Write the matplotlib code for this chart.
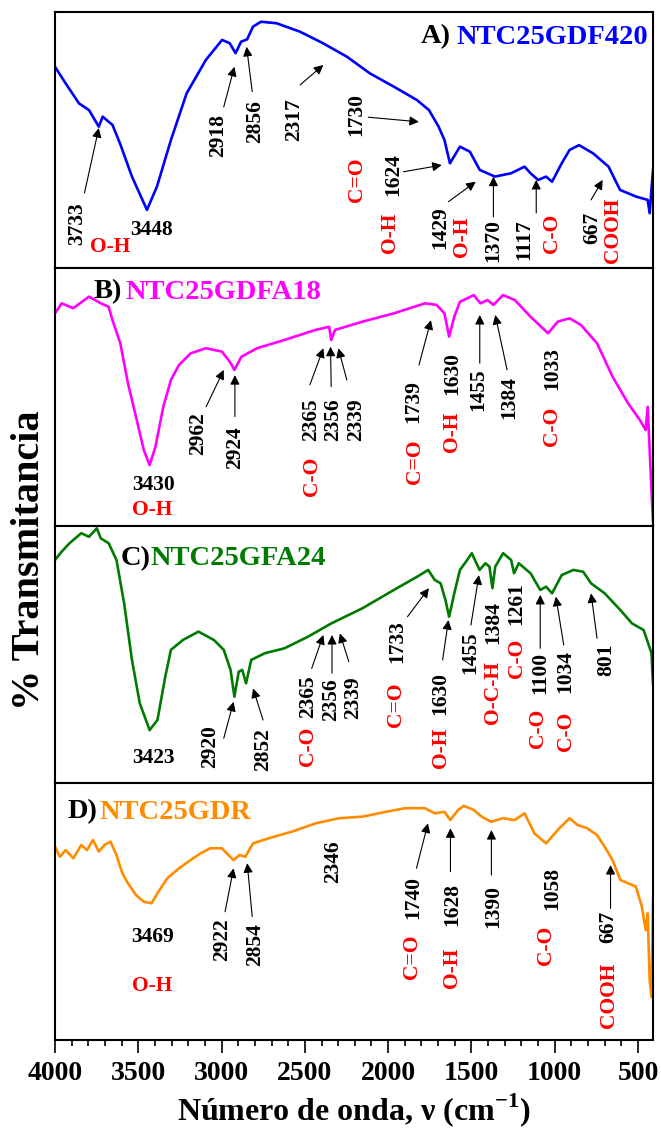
import numpy as np
import matplotlib
matplotlib.use("Agg")
import matplotlib.pyplot as plt
from matplotlib.ticker import MultipleLocator

plt.rcParams['font.family'] = ['Liberation Serif', 'DejaVu Serif']
plt.rcParams['font.weight'] = 'bold'
plt.rcParams['mathtext.fontset'] = 'custom'
plt.rcParams['mathtext.rm'] = 'Liberation Serif:bold'
plt.rcParams['mathtext.bf'] = 'Liberation Serif:bold'

# spectra (wavenumber cm-1, transmittance in % of panel height)
A_wn = [4000, 3936, 3856, 3796, 3737, 3714, 3655, 3610, 3538, 3448, 3388, 3304, 3210, 3094, 2997, 2951,
        2916, 2883, 2847, 2811, 2763, 2670, 2529, 2391, 2247, 2109, 1965, 1827, 1755, 1697, 1662, 1629,
        1569, 1509, 1450, 1404, 1359, 1262, 1181, 1145, 1100, 1052, 1016, 958, 911, 854, 770, 677, 608,
        512, 442, 430, 418, 410]
A_T = [78.6, 72.1, 64.3, 61.7, 55.2, 59.1, 55.9, 48.7, 35.7, 22.7, 31.8, 50.0, 68.2, 81.3, 89.1, 87.8,
       83.9, 88.4, 89.3, 94.3, 96.2, 95.6, 92.3, 87.8, 82.5, 76.0, 70.8, 65.6, 61.7, 55.2, 50.0, 40.9,
       47.4, 45.4, 38.3, 37.0, 35.7, 37.0, 39.6, 37.0, 34.4, 35.7, 33.7, 40.9, 46.1, 48.0, 44.8, 39.6, 30.5,
       27.9, 26.6, 21.4, 31.8, 38.3]

B_wn = [4000, 3960, 3890, 3796, 3725, 3678, 3655, 3608, 3562, 3514, 3467, 3432, 3397, 3350, 3304, 3256,
        3186, 3094, 2998, 2951, 2923, 2881, 2787, 2623, 2436, 2354, 2342, 2319, 2154, 1967, 1779, 1709,
        1662, 1634, 1603, 1569, 1486, 1446, 1404, 1368, 1310, 1240, 1145, 1040, 982, 911, 842, 746, 653,
        560, 489, 454, 442, 430, 420, 410]
B_T = [82.4, 86.3, 84.4, 88.9, 86.3, 85.0, 79.8, 70.8, 55.3, 42.4, 29.5, 23.6, 30.7, 46.2, 56.6, 62.4,
       66.9, 68.9, 67.6, 63.7, 60.5, 65.6, 68.9, 72.1, 76.0, 77.2, 72.1, 76.0, 79.2, 82.4, 86.3, 85.7,
       82.4, 73.4, 81.1, 86.9, 89.5, 86.3, 87.6, 85.7, 89.5, 87.6, 81.1, 74.7, 79.2, 80.5, 77.9, 70.8, 57.9,
       47.6, 41.1, 37.2, 46.2, 29.5, 15.0, 2.0]

C_wn = [4000, 3960, 3913, 3842, 3796, 3749, 3725, 3678, 3631, 3585, 3538, 3491, 3432, 3385, 3338, 3304,
        3233, 3139, 3045, 2987, 2946, 2923, 2897, 2876, 2853, 2822, 2740, 2623, 2482, 2341, 2154, 1966,
        1825, 1760, 1720, 1685, 1656, 1634, 1603, 1569, 1533, 1498, 1451, 1416, 1392, 1374, 1357, 1310,
        1262, 1244, 1216, 1145, 1087, 1052, 1016, 958, 888, 829, 782, 700, 606, 536, 466, 419, 410]
C_T = [86.8, 90.0, 93.3, 97.2, 95.8, 99.1, 95.2, 93.3, 86.8, 69.9, 47.9, 31.0, 20.6, 24.5, 41.4, 51.8,
       55.6, 58.9, 55.6, 51.8, 44.0, 33.6, 43.3, 44.0, 38.8, 47.9, 50.5, 52.4, 56.9, 62.1, 68.0, 75.1,
       80.3, 82.9, 79.0, 77.7, 71.2, 64.7, 73.8, 82.9, 86.1, 89.4, 82.9, 85.5, 84.2, 75.8, 84.2, 89.4,
       86.8, 81.6, 85.5, 81.6, 75.1, 76.4, 73.8, 80.9, 82.9, 82.2, 77.7, 73.8, 67.3, 62.1, 59.5, 50.5, 38.8]

D_wn = [4000, 3971, 3936, 3890, 3842, 3808, 3772, 3737, 3702, 3667, 3631, 3596, 3562, 3514, 3467, 3420,
        3385, 3326, 3256, 3186, 3127, 3068, 2998, 2928, 2892, 2857, 2811, 2717, 2576, 2436, 2295, 2154,
        2013, 1896, 1779, 1720, 1662, 1627, 1580, 1545, 1486, 1439, 1381, 1310, 1240, 1181, 1122, 1052,
        982, 911, 864, 806, 747, 700, 653, 606, 560, 513, 477, 454, 442, 430, 419, 410]
D_T = [75.2, 71.3, 73.9, 70.7, 75.9, 73.9, 77.8, 73.3, 75.9, 77.2, 72.0, 64.9, 61.0, 56.4, 53.8, 53.2,
       57.1, 62.9, 66.8, 70.0, 72.6, 74.6, 74.6, 70.0, 72.0, 71.3, 76.5, 78.5, 81.1, 84.3, 86.3, 86.9,
       88.8, 90.2, 90.2, 88.2, 88.8, 85.6, 89.5, 91.1, 89.5, 86.9, 84.9, 86.3, 85.6, 88.2, 80.4, 76.5,
       81.7, 86.3, 83.7, 82.4, 79.8, 75.2, 70.0, 62.3, 61.0, 59.7, 51.9, 42.8, 49.3, 23.3, 16.8, 54.0]

names = ['NTC25GDF420', 'NTC25GDFA18', 'NTC25GFA24', 'NTC25GDR']
letters = ['A)', 'B)', 'C)', 'D)']
colors = ['#0000ff', '#ff00ff', '#007a00', '#ff8c00']
series = [(A_wn, A_T), (B_wn, B_T), (C_wn, C_T), (D_wn, D_T)]

RED = '#ff0000'
# labels: (text, x, y, rotation, colour)
labels = [
    [('3733', 3866, 17.2, 90, 'k'), ('O-H', 3666, 8.2, 0, RED), ('3448', 3420, 14.8, 0, 'k'),
     ('2918', 3021, 51.6, 90, 'k'), ('2856', 2799, 57.1, 90, 'k'), ('2317', 2565, 57.8, 90, 'k'),
     ('1730', 2189, 59.8, 90, 'k'), ('C=O', 2189, 34.4, 90, RED), ('1624', 1967, 36.3, 90, 'k'),
     ('O-H', 1989, 13.7, 90, RED), ('1429', 1685, 15.6, 90, 'k'), ('O-H', 1557, 12.1, 90, RED),
     ('1370', 1368, 10.9, 90, 'k'), ('1117', 1181, 10.9, 90, 'k'), ('C-O', 1016, 13.7, 90, RED),
     ('667', 776, 15.6, 90, 'k'), ('COOH', 653, 14.8, 90, RED)],
    [('3430', 3409, 15.9, 0, 'k'), ('O-H', 3415, 6.2, 0, RED), ('2962', 3139, 35.9, 90, 'k'),
     ('2924', 2916, 30.4, 90, 'k'), ('2365', 2460, 41.1, 90, 'k'), ('2356', 2330, 41.1, 90, 'k'),
     ('2339', 2195, 41.1, 90, 'k'), ('C-O', 2459, 19.4, 90, RED), ('1739', 1849, 48.1, 90, 'k'),
     ('C=O', 1839, 24.8, 90, RED), ('1630', 1615, 59.3, 90, 'k'), ('O-H', 1615, 36.4, 90, RED),
     ('1455', 1462, 52.7, 90, 'k'), ('1384', 1274, 49.6, 90, 'k'), ('1033', 1016, 61.2, 90, 'k'),
     ('C-O', 1016, 38.8, 90, RED)],
    [('3423', 3409, 9.7, 0, 'k'), ('2920', 3069, 14.0, 90, 'k'), ('2852', 2751, 12.8, 90, 'k'),
     ('2365', 2482, 33.5, 90, 'k'), ('C-O', 2482, 14.4, 90, RED), ('2356', 2342, 32.3, 90, 'k'),
     ('2339', 2210, 33.1, 90, 'k'), ('1733', 1943, 54.9, 90, 'k'), ('C=O', 1955, 30.4, 90, RED),
     ('1630', 1685, 35.0, 90, 'k'), ('O-H', 1685, 13.6, 90, RED), ('1455', 1509, 50.6, 90, 'k'),
     ('1384', 1368, 62.6, 90, 'k'), ('O-C-H', 1368, 35.4, 90, RED), ('1261', 1228, 70.0, 90, 'k'),
     ('C-O', 1228, 48.6, 90, RED), ('1100', 1087, 42.8, 90, 'k'), ('C-O', 1099, 21.4, 90, RED),
     ('1034', 935, 43.2, 90, 'k'), ('C-O', 935, 20.2, 90, RED), ('801', 689, 47.9, 90, 'k')],
    [('3469', 3415, 40.1, 0, 'k'), ('O-H', 3415, 21.0, 0, RED), ('2922', 2998, 38.9, 90, 'k'),
     ('2854', 2799, 37.0, 90, 'k'), ('2346', 2330, 69.3, 90, 'k'), ('1740', 1849, 55.6, 90, 'k'),
     ('C=O', 1854, 32.3, 90, RED), ('1628', 1615, 52.9, 90, 'k'), ('O-H', 1615, 28.0, 90, RED),
     ('1390', 1368, 51.8, 90, 'k'), ('1058', 1016, 59.1, 90, 'k'), ('C-O', 1052, 37.0, 90, RED),
     ('667', 677, 44.0, 90, 'k'), ('COOH', 677, 17.5, 90, RED)],
]
# arrows: (x_tail, y_tail, x_tip, y_tip)
arrows = [
    [(3823, 29.3, 3737, 54.7), (2987, 62.9, 2923, 78.6), (2816, 68.9, 2850, 86.4), (2529, 71.5, 2389, 79.3),
     (2119, 58.9, 1815, 57.1), (1908, 37.6, 1678, 40.2), (1638, 25.9, 1474, 33.7), (1368, 20.0, 1368, 35.7),
     (1111, 21.5, 1111, 34.4), (782, 26.6, 712, 34.4)],
    [(3093, 46.2, 2987, 60.5), (2920, 42.4, 2920, 58.5), (2470, 54.7, 2389, 68.9), (2342, 54.0, 2346, 69.5),
     (2248, 56.6, 2299, 68.9), (1815, 62.4, 1743, 79.8), (1450, 63.1, 1450, 81.8), (1286, 60.5, 1357, 81.8)],
    [(2987, 17.4, 2928, 31.6), (2751, 24.5, 2811, 36.8), (2459, 44.6, 2389, 57.6), (2337, 42.7, 2337, 57.6),
     (2236, 47.2, 2290, 58.2), (1884, 64.7, 1755, 75.8), (1673, 47.9, 1638, 63.4), (1503, 61.5, 1455, 80.9),
     (1087, 52.4, 1087, 73.2), (946, 53.7, 993, 72.5), (746, 56.3, 782, 73.8)],
    [(2979, 49.9, 2928, 66.8), (2816, 48.0, 2846, 68.8), (1830, 66.8, 1761, 84.3), (1626, 65.5, 1626, 82.4),
     (1380, 64.2, 1380, 81.7), (665, 51.2, 665, 68.1)],
]
# title positions (axes fraction) and gap between letter and name (px)
title_pos = [(0.612, 0.902, 6), (0.064, 0.907, 4), (0.109, 0.875, 0), (0.021, 0.887, 2)]

W, H = 661, 1142
fig = plt.figure(figsize=(W / 100, H / 100), dpi=100)
edges = [12, 268, 526, 783, 1040]
x0, x1 = 55, 653
axes = []
for i in range(4):
    top, bot = edges[i], edges[i + 1]
    ax = fig.add_axes([x0 / W, 1 - bot / H, (x1 - x0) / W, (bot - top) / H])
    axes.append(ax)

for i, ax in enumerate(axes):
    wn, T = series[i]
    ax.plot(wn, T, color=colors[i], lw=1.9)
    ax.set_xlim(4000, 410)
    ax.set_ylim(0, 100)
    ax.set_yticks([])
    for s in ax.spines.values():
        s.set_linewidth(1.5)
    for (t, x, y, rot, c) in labels[i]:
        ax.text(x, y, t, rotation=rot, ha='center', va='center', color=c,
                fontsize=15.5, fontweight='bold')
    for (xa, ya, xb, yb) in arrows[i]:
        ax.annotate('', xy=(xb, yb), xytext=(xa, ya),
                    arrowprops=dict(arrowstyle='-|>', color='k', lw=0.8,
                                    mutation_scale=14, shrinkA=0, shrinkB=0))
    fx, fy, gap = title_pos[i]
    t1 = ax.text(fx, fy, letters[i], transform=ax.transAxes, ha='left', va='center',
                 fontsize=20.5, fontweight='bold', color='k')
    ax.annotate(names[i], xy=(1, 0), xycoords=t1, xytext=(gap, 0), textcoords='offset pixels',
                ha='left', va='bottom', fontsize=20.5, fontweight='bold', color=colors[i])
    if i < 3:
        ax.tick_params(axis='x', which='both', bottom=False, labelbottom=False)

ax = axes[3]
ax.set_xticks([4000, 3500, 3000, 2500, 2000, 1500, 1000, 500])
ax.xaxis.set_minor_locator(MultipleLocator(100))
ax.tick_params(axis='x', which='major', direction='out', length=9, width=1.2, labelsize=20, pad=6)
ax.tick_params(axis='x', which='minor', direction='out', length=4.5, width=1.2)
ax.set_xlabel(r'Número de onda, ν (cm$^{\mathbf{-1}}$)', fontsize=23, fontweight='bold', labelpad=4)

fig.text(30 / W, 1 - 560 / H, '% Transmitancia', rotation=90, ha='center', va='center',
         fontsize=29, fontweight='bold')

fig.savefig('out.png', dpi=100)
